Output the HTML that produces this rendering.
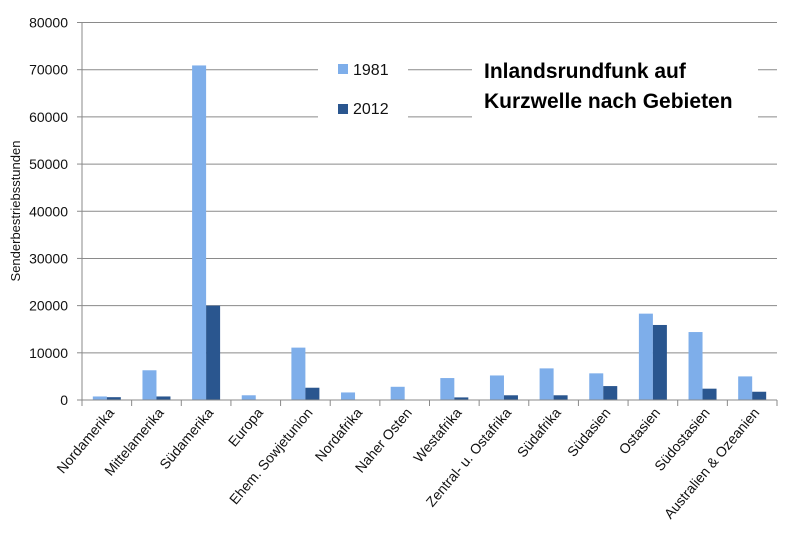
<!DOCTYPE html>
<html><head><meta charset="utf-8"><style>
html,body{margin:0;padding:0;background:#fff;}
svg{display:block;font-family:"Liberation Sans",sans-serif;}
</style></head><body>
<svg id="chart" width="800" height="543" viewBox="0 0 800 543">
<g id="grid"></g><g id="bars"></g><g id="axes"></g>
<rect x="318" y="55" width="90" height="70" fill="#fff"/>
<rect x="472" y="55" width="286" height="70" fill="#fff"/>
<g>
<rect x="338" y="64" width="10" height="10" fill="#7eaeea"/>
<text x="353" y="75" font-size="16" fill="#111">1981</text>
<rect x="338" y="104" width="10" height="10" fill="#2a568f"/>
<text x="353" y="114" font-size="16" fill="#111">2012</text>
</g>
<text x="484" y="78" font-size="21" font-weight="bold" fill="#000">Inlandsrundfunk auf</text>
<text x="484" y="108" font-size="21" font-weight="bold" fill="#000">Kurzwelle nach Gebieten</text>
<text transform="translate(20,211) rotate(-90)" text-anchor="middle" font-size="13" fill="#111">Senderbestriebsstunden</text>
</svg>
<script>
const categories=["Nordamerika","Mittelamerika","Südamerika","Europa","Ehem. Sowjetunion","Nordafrika","Naher Osten","Westafrika","Zentral- u. Ostafrika","Südafrika","Südasien","Ostasien","Südostasien","Australien & Ozeanien"];
const values1981=[750,6300,70900,1000,11100,1600,2800,4650,5200,6700,5650,18300,14400,5000];
const values2012=[600,750,20000,0,2600,0,0,550,1000,1000,2950,15900,2400,1750];
const yTicks=[0,10000,20000,30000,40000,50000,60000,70000,80000];
const NS="http://www.w3.org/2000/svg";
const X0=82,X1=777,Y0=400,YT=22.5,YMAX=80000;
const cw=(X1-X0)/categories.length;
function y(v){return Y0-(v/YMAX)*(Y0-YT);}
function x(i){return X0+i*cw;}
function mk(t,a,p){const e=document.createElementNS(NS,t);for(const k in a)e.setAttribute(k,a[k]);p.appendChild(e);return e;}
const grid=document.getElementById('grid'),bars=document.getElementById('bars'),axes=document.getElementById('axes');
yTicks.forEach(v=>{
 if(v>0){const l=mk('line',{x1:X0,x2:X1,y1:y(v),y2:y(v),stroke:'#8a8a8a','stroke-width':1},grid);
 
 }
 const tk=mk('line',{x1:X0-5,x2:X0,y1:y(v),y2:y(v),stroke:'#8a8a8a'},axes);
 
 
 const t=mk('text',{x:X0-14,y:y(v)+5,'text-anchor':'end','font-size':14,fill:'#111'},axes);
 t.textContent=v;
 
 
});
const bw=14;
categories.forEach((c,i)=>{
 const cx=x(i)+cw/2;
 const b1=mk('rect',{x:cx-bw,y:y(values1981[i]),width:bw,height:Y0-y(values1981[i]),fill:'#7eaeea'},bars);
 
 
 const b2=mk('rect',{x:cx,y:y(values2012[i]),width:bw,height:Y0-y(values2012[i]),fill:'#2a568f'},bars);
 
 
 const t=mk('text',{transform:`translate(${cx+8},413) rotate(-50)`,'text-anchor':'end','font-size':14,fill:'#111'},axes);
 t.textContent=c;
 
 
});
for(let i=0;i<=categories.length;i++){
 const tk=mk('line',{x1:x(i),x2:x(i),y1:Y0,y2:Y0+6,stroke:'#8a8a8a'},axes);
 
 
}
const ya=mk('line',{x1:X0,x2:X0,y1:YT,y2:Y0,stroke:'#8a8a8a'},axes);


const xa=mk('line',{x1:X0,x2:X1,y1:Y0,y2:Y0,stroke:'#8a8a8a'},axes);


</script>
</body></html>
